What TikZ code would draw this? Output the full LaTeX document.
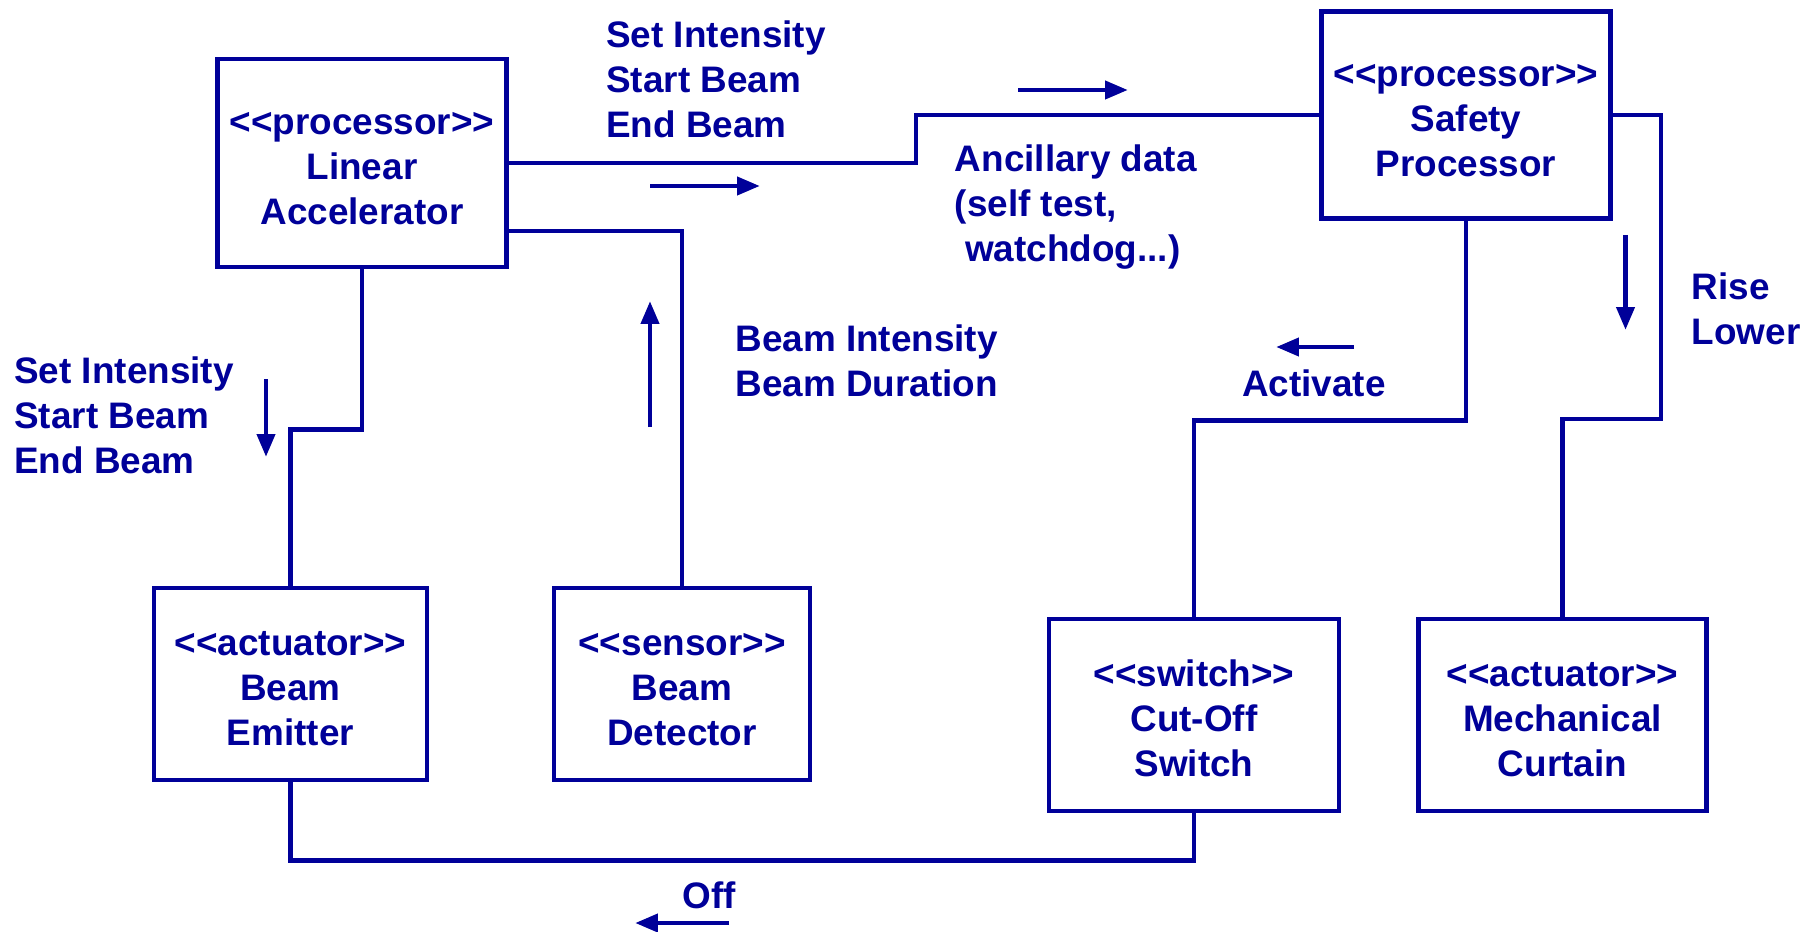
\documentclass[tikz,border=0pt]{standalone}
\usepackage{fontspec}
\setmainfont{Liberation Sans}
\usetikzlibrary{arrows.meta,positioning}
\definecolor{umlblue}{RGB}{0,0,153}
\newcommand{\stereo}[1]{\rule{0pt}{18.5pt}<{}<#1>{}>}
\tikzset{
  block/.style={draw=umlblue, line width=2.6pt, inner sep=0pt, align=center,
    minimum height=3.84cm},
  msg/.style={anchor=west, inner sep=0pt, align=left},
  wire/.style={draw=umlblue, line width=2.6pt},
  flow/.style={umlblue, line width=2.8pt, -{Triangle[length=13pt,width=10pt]}},
}
\begin{document}
\begin{tikzpicture}[x=0.02cm, y=-0.02cm, text=umlblue,
    font=\fontsize{21}{25.6}\selectfont\bfseries]
    \useasboundingbox (0,0) rectangle (1814,932);
    % boxes
    \node[block, minimum width=5.79cm, minimum height=4.16cm] (linac) at (362,163)
        {\stereo{processor}\\Linear\\Accelerator};
    \node[block, minimum width=5.79cm, minimum height=4.14cm] (safety) at (1466,115)
        {\stereo{processor}\\Safety\\Processor};
    \node[block, minimum width=5.46cm] (emitter) at (290.5,684)
        {\stereo{actuator}\\Beam\\Emitter};
    \node[block, minimum width=5.12cm] (detector) at (682,684)
        {\stereo{sensor}\\Beam\\Detector};
    \node[block, minimum width=5.8cm] (cutoff) at (1194,715)
        {\stereo{switch}\\Cut-Off\\Switch};
    \node[block, minimum width=5.76cm] (curtain) at (1562.5,715)
        {\stereo{actuator}\\Mechanical\\Curtain};
    % wires
    \draw[wire] (linac.east) -- ++(407,0) |- (safety.west);
    \draw[wire] ([yshift=-1.36cm]linac.east) -| (detector.north);
    \draw[wire] (linac.south) -- ++(0,160) -| (emitter.north);
    \draw[wire] (safety.south) -- ++(0,200) -| (cutoff.north);
    \draw[wire] (safety.east) -- ++(48,0) -- ++(0,304) -| (curtain.north);
    \draw[wire] (emitter.south) -- ++(0,78.5) -| (cutoff.south);
    % messages
    \node[msg] (cmdtop) at (606,79) {Set Intensity\\Start Beam\\End Beam};
    \node[msg] (ancil) at (954.5,207.5) {Ancillary data\\(self test,\\\ watchdog...)};
    \node[msg] (cmdleft) at (14,415.5) {Set Intensity\\Start Beam\\End Beam};
    \node[msg] (meas) at (735,361) {Beam Intensity\\Beam Duration};
    \node (activate) at (1314,383) {Activate};
    \node[msg] (rise) at (1691.5,308.5) {Rise\\Lower};
    \node (off) at (709,895.5) {Off};
    % directions
    \draw[flow] (650,186) -- (760,186);
    \draw[flow] (1018,90) -- (1128,90);
    \draw[flow] (266,379) -- (266,457);
    \draw[flow] (650,427) -- (650,301);
    \draw[flow] (1354,347) -- (1276,347);
    \draw[flow] (1625.5,235) -- (1625.5,330);
    \draw[flow] (729,923) -- (635,923);
\end{tikzpicture}
\end{document}
